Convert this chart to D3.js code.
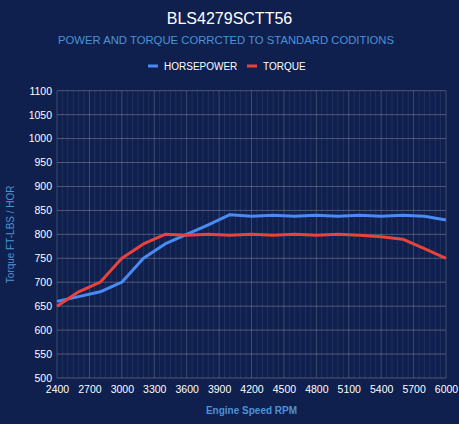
<!DOCTYPE html>
<html lang="en">
<head>
<meta charset="UTF-8">
<title>BLS4279SCTT56</title>
<script src="https://cdn.jsdelivr.net/npm/d3@7"></script>
<style>
    html, body {
        margin: 0;
        padding: 0;
        background-color: #0f1f4e;
    }
    body {
        font-family: "Liberation Sans", Arial, sans-serif;
    }
    svg text {
        font-family: "Liberation Sans", Arial, sans-serif;
    }
</style>
</head>
<body>
<svg id="chart" width="459" height="424"></svg>
<script>
    // data
    let rpm = [2400, 2600, 2800, 3000, 3200, 3400, 3600, 3800, 4000, 4200, 4400, 4600, 4800, 5000, 5200, 5400, 5600, 5800, 6000]
    let horsepower = [660, 670, 680, 700, 750, 780, 800, 820, 841, 838, 840, 838, 840, 838, 840, 838, 840, 838, 830]
    let torque = [650, 680, 700, 750, 780, 800, 798, 800, 798, 800, 798, 800, 798, 800, 798, 795, 790, 770, 750]
    let xTicks = [2400, 2700, 3000, 3300, 3600, 3900, 4200, 4500, 4800, 5100, 5400, 5700, 6000]
    let yTicks = [500, 550, 600, 650, 700, 750, 800, 850, 900, 950, 1000, 1050, 1100]
    let seriesNames = ["HORSEPOWER", "TORQUE"]
    let seriesColors = ["#4a8af4", "#e8433a"]

    let svg = d3.select("#chart")
    let W = 459, H = 424
    let plotL = 57, plotR = 446, plotT = 90.7, plotB = 378

    let x = d3.scaleLinear().domain([2400, 6000]).range([plotL, plotR])
    let y = d3.scaleLinear().domain([500, 1100]).range([plotB, plotT])

    svg.append("rect").attr("width", W).attr("height", H).attr("fill", "#0f1f4e")

    // title
    svg.append("text")
        .attr("x", W / 2).attr("y", 24)
        .attr("text-anchor", "middle")
        .attr("fill", "#ffffff")
        .attr("font-size", 16)
        .text("BLS4279SCTT56")

    svg.append("text")
        .attr("x", 226).attr("y", 44)
        .attr("text-anchor", "middle")
        .attr("fill", "#4a93d6")
        .attr("font-size", 11.3)
        .text("POWER AND TORQUE CORRCTED TO STANDARD CODITIONS")

    // legend
    let legend = svg.append("g")
    let legX = [148, 247]
    seriesNames.forEach(function (name, i) {
        legend.append("rect")
            .attr("x", legX[i]).attr("y", 64.5)
            .attr("width", 10).attr("height", 3)
            .attr("fill", seriesColors[i])
        legend.append("text")
            .attr("x", legX[i] + 16).attr("y", 69.5)
            .attr("fill", "#ffffff")
            .attr("font-size", 10)
            .text(name)
    })

    // minor grid every 50 rpm
    let minor = d3.range(2400, 6001, 50)
    svg.append("g").selectAll("line")
        .data(minor)
        .enter()
        .append("line")
        .attr("x1", d => x(d)).attr("x2", d => x(d))
        .attr("y1", plotT).attr("y2", plotB)
        .attr("stroke", "rgba(255,255,255,0.08)")
        .attr("stroke-width", 1)

    // major grids
    svg.append("g").selectAll("line")
        .data(xTicks)
        .enter()
        .append("line")
        .attr("x1", d => x(d)).attr("x2", d => x(d))
        .attr("y1", plotT).attr("y2", plotB)
        .attr("stroke", "rgba(255,255,255,0.13)")
        .attr("stroke-width", 1)

    svg.append("g").selectAll("line")
        .data(yTicks)
        .enter()
        .append("line")
        .attr("x1", plotL).attr("x2", plotR)
        .attr("y1", d => y(d)).attr("y2", d => y(d))
        .attr("stroke", "rgba(255,255,255,0.25)")
        .attr("stroke-width", 1)

    // axes
    let xAxis = svg.append("g")
        .attr("transform", "translate(0," + plotB + ")")
        .call(d3.axisBottom(x).tickValues(xTicks).tickSize(0).tickPadding(8).tickFormat(d3.format("d")))
    let yAxis = svg.append("g")
        .attr("transform", "translate(" + plotL + ",0)")
        .call(d3.axisLeft(y).tickValues(yTicks).tickSize(0).tickPadding(5).tickFormat(d3.format("d")))
    ;[xAxis, yAxis].forEach(function (a) {
        a.select(".domain").remove()
        a.selectAll("text")
            .attr("fill", "#ffffff")
            .attr("font-size", 10.5)
            .attr("font-family", "Liberation Sans, Arial, sans-serif")
    })

    // axis titles
    svg.append("text")
        .attr("x", (plotL + plotR) / 2).attr("y", 414)
        .attr("text-anchor", "middle")
        .attr("fill", "#4a93d6")
        .attr("font-size", 10)
        .attr("font-weight", "bold")
        .text("Engine Speed RPM")

    svg.append("text")
        .attr("transform", "translate(14," + ((plotT + plotB) / 2) + ") rotate(-90)")
        .attr("text-anchor", "middle")
        .attr("fill", "#4a93d6")
        .attr("font-size", 10)
        .text("Torque FT-LBS / HOR")

    // lines
    let line = d3.line()
        .x((d, i) => x(rpm[i]))
        .y(d => y(d))

    ;[horsepower, torque].forEach(function (s, i) {
        svg.append("path")
            .datum(s)
            .attr("fill", "none")
            .attr("stroke", seriesColors[i])
            .attr("stroke-width", 3)
            .attr("stroke-linejoin", "round")
            .attr("d", line)
    })
</script>
</body>
</html>
